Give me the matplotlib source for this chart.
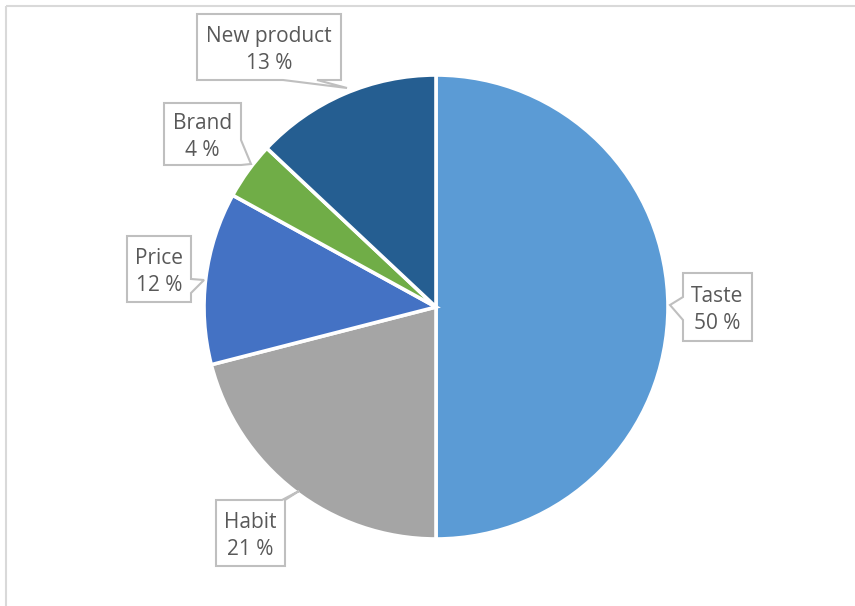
import matplotlib.pyplot as plt
from matplotlib.patches import Polygon, Rectangle

# share of answers per reason
labels = ["Taste", "Habit", "Price", "Brand", "New product"]
shares = [50, 21, 12, 4, 13]
colors = ["#5B9BD5", "#A5A5A5", "#4472C4", "#70AD47", "#255E91"]

W, H = 855, 606
fig = plt.figure(figsize=(W / 100, H / 100), dpi=100)
ax = fig.add_axes([0, 0, 1, 1])

# outer frame (only top and left edge fall inside the image)
ax.add_patch(Rectangle((5.5, 5.5), W, H, fill=False, ec="#D9D9D9", lw=1.5))

cx, cy, r = 436, 307, 232
# y axis gets flipped below, so counterclock=True runs clockwise on screen
ax.pie(shares, colors=colors, center=(cx, cy), radius=r, startangle=270,
       counterclock=True, wedgeprops=dict(edgecolor="white", linewidth=2.6),
       frame=True)
ax.set_xlim(0, W)
ax.set_ylim(H, 0)
ax.set_aspect("equal")
ax.axis("off")


def callout(x0, y0, x1, y1, side, a, b, tip):
    # box with a pointer cut into one side; a, b are positions along that side
    if side == "bottom":
        pts = [(x0, y0), (x1, y0), (x1, y1), (b, y1), tip, (a, y1), (x0, y1)]
    elif side == "right":
        pts = [(x0, y0), (x1, y0), (x1, a), tip, (x1, b), (x1, y1), (x0, y1)]
    elif side == "left":
        pts = [(x0, y0), (x1, y0), (x1, y1), (x0, y1), (x0, b), tip, (x0, a)]
    else:  # top
        pts = [(x0, y0), (a, y0), tip, (b, y0), (x1, y0), (x1, y1), (x0, y1)]
    ax.add_patch(Polygon(pts, closed=True, fc="white", ec="#BFBFBF", lw=1.5,
                         zorder=5))


boxes = {
    "New product": ((197, 14, 341, 80), "bottom", 283, 317, (347, 88)),
    "Brand": ((164, 103, 241, 165), "right", 140, 165, (251, 164)),
    "Price": ((127, 236, 191, 302), "right", 279, 293, (204, 280)),
    "Habit": ((216, 500, 285, 566), "top", 282, 285, (299, 491)),
    "Taste": ((683, 273, 752, 341), "left", 297, 320, (670, 305)),
}

for name, val in zip(labels, shares):
    (x0, y0, x1, y1), side, a, b, tip = boxes[name]
    callout(x0, y0, x1, y1, side, a, b, tip)
    ax.text((x0 + x1) / 2, (y0 + y1) / 2 + 3, f"{name}\n{val} %", ha="center",
            va="center", fontsize=15, color="#595959", family="Open Sans",
            linespacing=1.35, zorder=6)

fig.savefig("out.png", dpi=100)
